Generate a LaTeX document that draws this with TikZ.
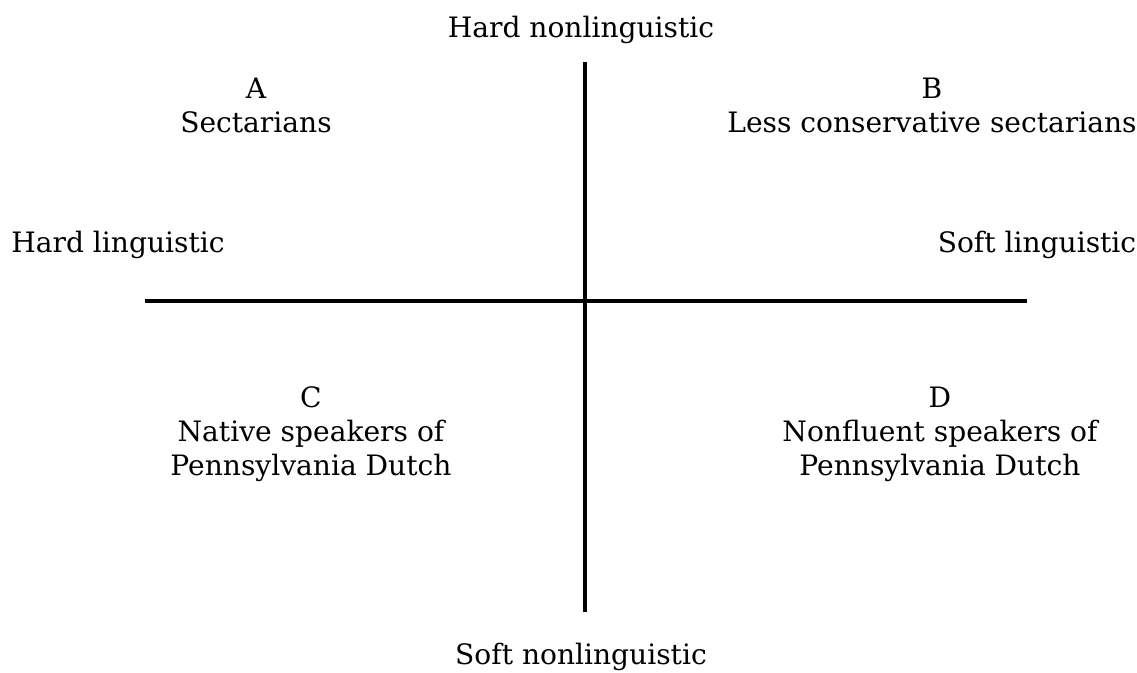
\documentclass[tikz,border=0pt]{standalone}
\usepackage{fontspec}
\setmainfont{DejaVu Serif}
\usetikzlibrary{positioning}

\begin{document}
\begin{tikzpicture}[x=0.02cm,y=-0.02cm,
    thick,label node/.style={align=center,inner sep=0pt,font=\fontsize{16}{19.3}\selectfont},
    axis line/.style={-,line width=2.3pt}]
  \useasboundingbox (0,0) rectangle (1137,673);
  % axes
  \coordinate (top) at (585,62);
  \coordinate (bottom) at (585,612);
  \coordinate (left) at (145,301);
  \coordinate (right) at (1027,301);
  \path[axis line] (top) edge (bottom);
  \path[axis line] (left) edge (right);
  % axis labels
  \node[label node] (hnl) at (581,30) {Hard nonlinguistic};
  \node[label node] (snl) at (581,657) {Soft nonlinguistic};
  \node[label node] (hl) at (118,245) {Hard linguistic};
  \node[label node] (sl) at (1037,245) {Soft linguistic};
  % quadrants
  \node[label node] (qa) at (256,105) {A\\Sectarians};
  \node[label node] (qb) at (932,105) {B\\Less conservative sectarians};
  \node[label node] (qc) at (311,434) {C\\Native speakers of\\Pennsylvania Dutch};
  \node[label node] (qd) at (940,434) {D\\Nonfluent speakers of\\Pennsylvania Dutch};
\end{tikzpicture}
\end{document}
